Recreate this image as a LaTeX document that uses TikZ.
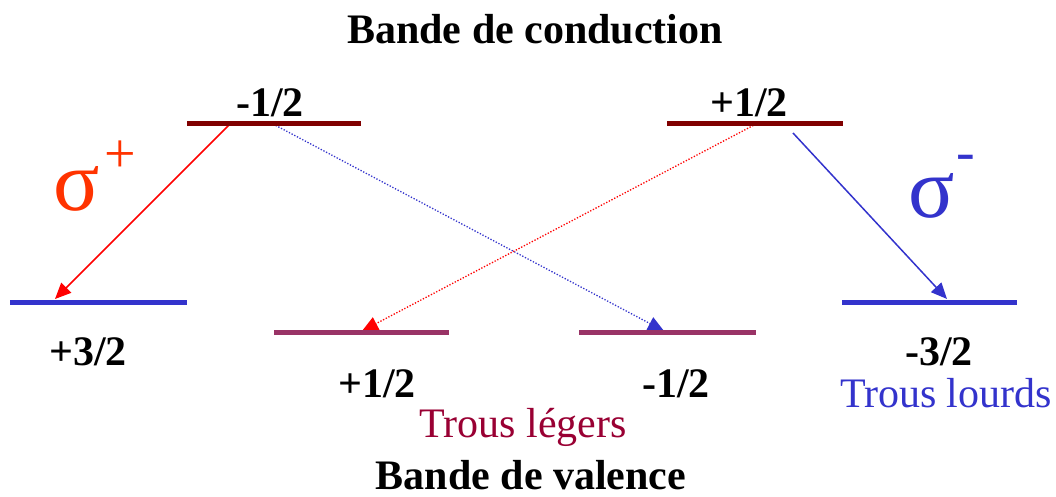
\documentclass[tikz,border=0pt]{standalone}
\usepackage{fontspec}
\setmainfont{Liberation Serif}
\usetikzlibrary{arrows.meta}
\definecolor{cbdark}{HTML}{800000}
\definecolor{vbblue}{HTML}{3333CC}
\definecolor{vbmauve}{HTML}{993366}
\definecolor{lightc}{HTML}{990033}
\definecolor{sigred}{HTML}{FF3300}
\definecolor{arrred}{HTML}{FF0000}
\tikzset{
  lvl/.style={line width=5pt},
  lbl/.style={anchor=base,inner sep=0pt,font=\fontsize{42}{48}\selectfont\bfseries},
  txt/.style={anchor=base,inner sep=0pt,font=\fontsize{42}{48}\selectfont},
  sig/.style={anchor=base,inner sep=0pt,font=\fontsize{86}{90}\selectfont},
  supr/.style={anchor=center,inner sep=0pt,font=\fontsize{56}{60}\selectfont},
  arr/.style={line width=1.5pt,-{Triangle[length=16pt,width=14pt]}},
  dotarr/.style={line width=1.3pt,dash pattern=on 1.3pt off 1.7pt,-{Triangle[length=16pt,width=14pt]}}
}
\begin{document}
\begin{tikzpicture}[x=1pt,y=-1pt]
\useasboundingbox (0,0) rectangle (1056,497);
% level endpoints
\coordinate (c1a) at (187,124); \coordinate (c1b) at (361,124);
\coordinate (c2a) at (667,124); \coordinate (c2b) at (843,124);
\coordinate (v1a) at (10,302);  \coordinate (v1b) at (187,302);
\coordinate (v2a) at (274,332); \coordinate (v2b) at (449,332);
\coordinate (v3a) at (579,332); \coordinate (v3b) at (756,332);
\coordinate (v4a) at (842,302); \coordinate (v4b) at (1017,302);
% transition endpoints
\coordinate (s1) at (230,124); \coordinate (e1) at (55,299);
\coordinate (s2) at (273,124); \coordinate (e2) at (664,331);
\coordinate (s3) at (756,124); \coordinate (e3) at (362,331);
\coordinate (s4) at (793,133); \coordinate (e4) at (947,299);
% arrows
\draw[arr,arrred] (s1) -- (e1);
\draw[dotarr,vbblue] (s2) -- (e2);
\draw[dotarr,arrred] (s3) -- (e3);
\draw[arr,vbblue] (s4) -- (e4);
% levels
\draw[lvl,cbdark] (c1a) -- (c1b);
\draw[lvl,cbdark] (c2a) -- (c2b);
\draw[lvl,vbblue] (v1a) -- (v1b);
\draw[lvl,vbmauve] (v2a) -- (v2b);
\draw[lvl,vbmauve] (v3a) -- (v3b);
\draw[lvl,vbblue] (v4a) -- (v4b);
% labels
\node[lbl] (tcb) at (535,44) {Bande de conduction};
\node[lbl] (tc1) at (270,117) {-1/2};
\node[lbl] (tc2) at (749,117) {+1/2};
\node[lbl] (tv1) at (88,365) {+3/2};
\node[lbl] (tv2) at (377,397) {+1/2};
\node[lbl] (tv3) at (676,397) {-1/2};
\node[lbl] (tv4) at (939,365) {-3/2};
\node[txt,vbblue] (tlourd) at (946,407) {Trous lourds};
\node[txt,lightc] (tleger) at (523,437) {Trous légers};
\node[lbl] (tvb) at (531,489) {Bande de valence};
% sigma labels
\node[sig,sigred] (sp) at (77,210) {σ};
\node[supr,sigred] (spp) at (120,157) {+};
\node[sig,vbblue] (sm) at (932,217) {σ};
\node[supr,vbblue] (smm) at (966,163) {-};
\end{tikzpicture}
\end{document}
